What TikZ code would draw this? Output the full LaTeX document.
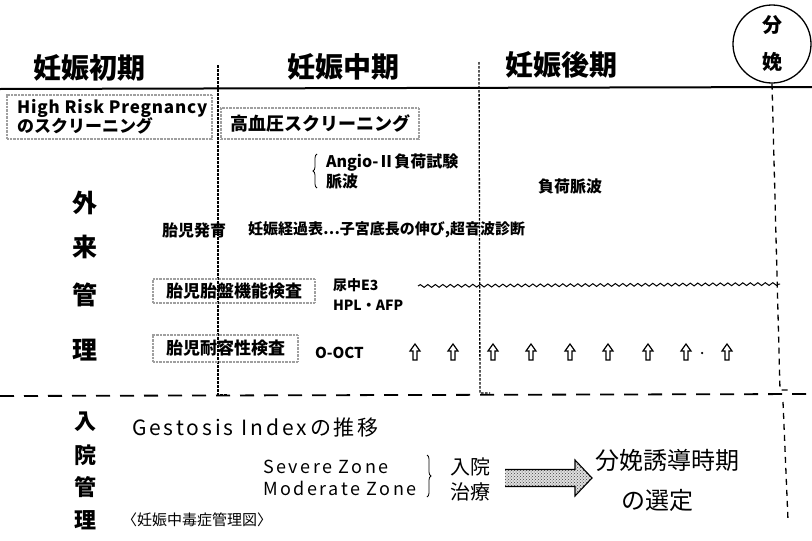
\documentclass[tikz,border=0pt]{standalone}
\usepackage{fontspec}
\setmainfont{Noto Sans CJK JP}
\newfontfamily\widea[LetterSpace=5]{Noto Sans CJK JP}
\newfontfamily\wideb[LetterSpace=14]{Noto Sans CJK JP}
\usetikzlibrary{decorations.pathmorphing,decorations.pathreplacing,patterns}
\newcommand{\fs}[1]{\fontsize{#1}{#1}\selectfont}
\tikzset{
  every node/.style={font=\bfseries},
  txt/.style={inner sep=0pt, outer sep=0pt},
  reg/.style={inner sep=0pt, outer sep=0pt, font=\mdseries},
  stip/.style={draw=gray!75, line width=2.8pt, dash pattern=on 0.8pt off 0.6pt, inner sep=0pt},
  vdash/.style={line width=1.3pt, dash pattern=on 2.5pt off 1.5pt},
  hdash/.style={line width=1.8pt, dash pattern=on 14pt off 10pt},
  rdash/.style={line width=1.3pt, dash pattern=on 6pt off 5pt},
  brc/.style={decorate, decoration={brace, amplitude=4pt}, line width=0.8pt},
  pics/uarr/.style={code={\draw[line width=1.2pt, line join=miter] (-2,8) -- (-2,-1) -- (-5,-1) -- (0,-8) -- (5,-1) -- (2,-1) -- (2,8) -- cycle;}},
}
\begin{document}
\begin{tikzpicture}[x=1pt,y=-1pt]
\useasboundingbox (0,0) rectangle (812,541);
% header
\node[txt] (h1) at (90,68) {\fs{28}妊娠初期};
\node[txt] (h2) at (343,67) {\fs{28}妊娠中期};
\node[txt] (h3) at (561,65) {\fs{28}妊娠後期};
\node[circle, draw, line width=1.3pt, minimum size=78pt, inner sep=0pt] (cir) at (772,44) {};
\node[txt] (bun) at (772,25) {\fs{20}分};
\node[txt] (ben) at (772,62) {\fs{20}娩};
\coordinate (hl0) at (0,89);
\coordinate (hl1) at (812,87);
\draw[line width=2pt] (hl0) -- (hl1);
% verticals
\coordinate (v1t) at (218,65);
\coordinate (v1b) at (218,395);
\coordinate (v1c) at (227,395);
\coordinate (v2t) at (479,62);
\coordinate (v2b) at (480,393);
\coordinate (v2c) at (490,393);
\coordinate (v3b) at (780,390);
\coordinate (v3c) at (790,390);
\coordinate (v4t) at (783,402);
\coordinate (v4b) at (788,520);
\draw[vdash] (v1t) -- (v1b) -- (v1c);
\draw[vdash] (v2t) -- (v2b) -- (v2c);
\draw[rdash] (cir.south) -- (v3b) -- (v3c);
\draw[rdash] (v4t) -- (v4b);
\coordinate (hd0) at (0,396);
\coordinate (hd1) at (812,394);
\draw[hdash] (hd0) -- (hd1);
% boxes
\node[stip, minimum width=205pt, minimum height=44pt] (b1) at (109.5,117) {};
\node[txt, anchor=west, align=left] (b1t) at (17,117) {\widea\fs{17}High Risk Pregnancy\\[-1pt]\fs{17}のスクリーニング};
\node[stip, minimum width=198pt, minimum height=31pt] (b2) at (320,123.5) {};
\node[txt] (b2t) at (b2) {\fs{18}高血圧スクリーニング};
% 外来管理 column
\node[txt] (g1) at (85,203) {\fs{25}外};
\node[txt] (g2) at (85,247) {\fs{25}来};
\node[txt] (g3) at (85,295) {\fs{25}管};
\node[txt] (g4) at (85,350) {\fs{25}理};
% Angio
\coordinate (br1b) at (317,188);
\coordinate (br1t) at (317,154);
\draw[brc] (br1b) -- (br1t);
\node[txt, anchor=west] (ang) at (326,163) {\fs{16}Angio-Ⅱ負荷試験};
\node[txt, anchor=west] (myak) at (326,181) {\fs{16}脈波};
\node[txt] (fuka) at (570,186) {\fs{16}負荷脈波};
% fetal growth
\node[txt, anchor=west] (tai) at (162,230) {\fs{16}胎児発育};
\node[txt, anchor=west] (ninshin) at (248,230) {\fs{15}妊娠経過表…子宮底長の伸び,超音波診断};
% placental function
\node[stip, minimum width=162pt, minimum height=24pt] (b3) at (234,291) {};
\node[txt] (b3t) at (b3) {\fs{17}胎児胎盤機能検査};
\node[txt, anchor=west] (e3) at (333,285) {\fs{14}尿中E3};
\node[txt, anchor=west] (hpl) at (333,305) {\fs{14}HPL・AFP};
\coordinate (w0) at (418,286);
\coordinate (w1) at (780,284);
\draw[line width=1pt, decorate, decoration={snake, amplitude=1.4pt, segment length=7.5pt}] (w0) -- (w1);
% tolerance test
\node[stip, minimum width=145pt, minimum height=27pt] (b4) at (225.5,348.5) {};
\node[txt] (b4t) at (b4) {\fs{17}胎児耐容性検査};
\node[txt, anchor=west] (oct) at (315,353) {\fs{15}O-OCT};
\pic (u1) at (415,352) {uarr};
\pic (u2) at (453,352) {uarr};
\pic (u3) at (493,352) {uarr};
\pic (u4) at (531,352) {uarr};
\pic (u5) at (570,352) {uarr};
\pic (u6) at (608,352) {uarr};
\pic (u7) at (648,352) {uarr};
\pic (u8) at (686,352) {uarr};
\pic (u9) at (727,352) {uarr};
\node[circle, fill, inner sep=0pt, minimum size=2.5pt] (dot) at (702,353) {};
% 入院管理 column
\node[txt] (n1) at (85,422) {\fs{22}入};
\node[txt] (n2) at (85,455) {\fs{22}院};
\node[txt] (n3) at (85,487) {\fs{22}管};
\node[txt] (n4) at (85,520) {\fs{22}理};
\node[reg, anchor=west] (gest) at (132,427) {\wideb\fs{21}Gestosis Indexの推移};
\node[reg, anchor=west] (sev) at (263,467) {\wideb\fs{18}Severe Zone};
\node[reg, anchor=west] (mod) at (263,488) {\wideb\fs{18}Moderate Zone};
\coordinate (br2t) at (427,455);
\coordinate (br2b) at (427,497);
\draw[brc] (br2t) -- (br2b);
\node[reg] (nyu) at (470,467) {\fs{20}入院};
\node[reg] (chi) at (470,492) {\fs{20}治療};
% big stippled arrow
\coordinate (ba) at (505,478);
\fill[gray!25] (ba) ++(0,-8.5) -- ++(70,0) -- ++(0,-9.5) -- ++(17,18) -- ++(-17,18) -- ++(0,-9.5) -- ++(-70,0) -- cycle;
\fill[pattern=crosshatch dots, pattern color=black!75] (ba) ++(0,-8.5) -- ++(70,0) -- ++(0,-9.5) -- ++(17,18) -- ++(-17,18) -- ++(0,-9.5) -- ++(-70,0) -- cycle;
\draw[line width=1.1pt, line join=miter] (ba) ++(0,-8.5) -- ++(70,0) -- ++(0,-9.5) -- ++(17,18) -- ++(-17,18) -- ++(0,-9.5) -- ++(-70,0);
\node[reg, anchor=west] (yudo) at (595,460) {\fs{24}分娩誘導時期};
\node[reg] (sentei) at (657,500) {\fs{24}の選定};
\node[reg, anchor=west] (zu) at (122,520) {\fs{15}〈妊娠中毒症管理図〉};
\end{tikzpicture}
\end{document}
